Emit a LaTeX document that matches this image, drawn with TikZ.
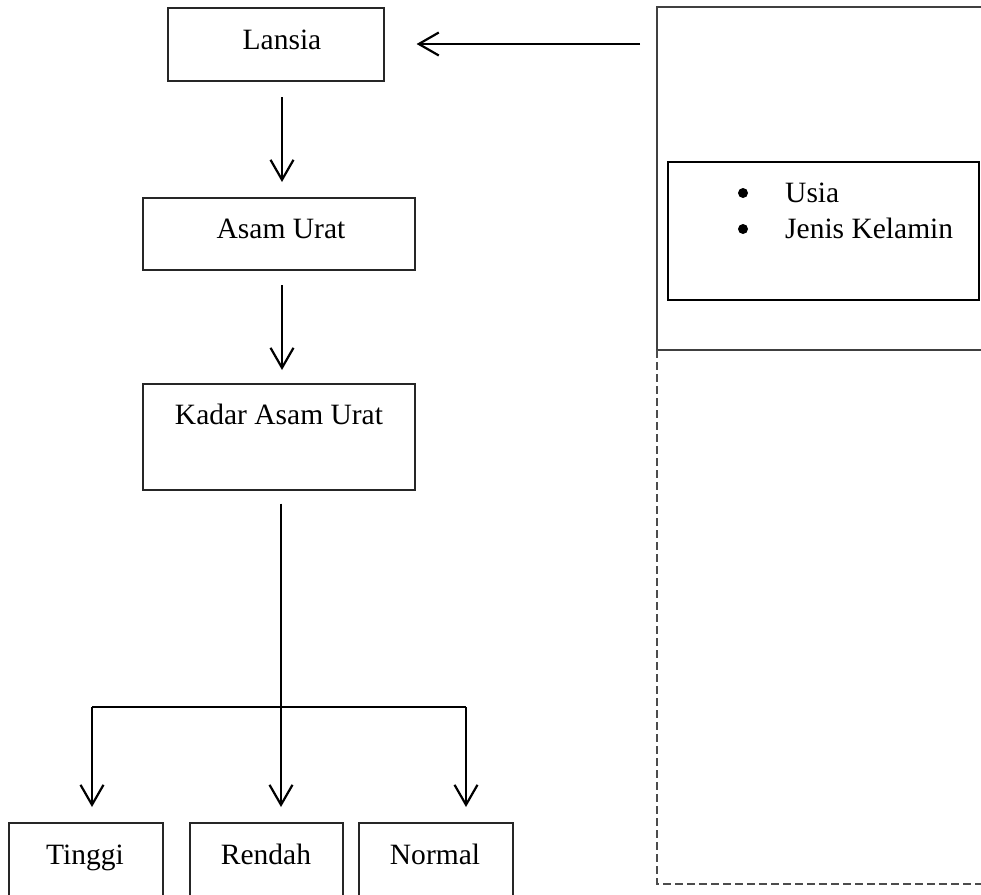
\documentclass[tikz,border=0pt]{standalone}
\usepackage{fontspec}
\setmainfont{Liberation Serif}
\usetikzlibrary{arrows.meta}
\begin{document}
\begin{tikzpicture}[x=1pt,y=-1pt,
  box/.style={draw=black!85,line width=1.6pt,inner sep=0pt,anchor=north west},
  lbl/.style={anchor=base,inner sep=0pt,font=\fontsize{29.5}{35}\selectfont},
  arr/.style={line width=2.2pt,-{Straight Barb[length=20pt,width=23pt,line width=2.2pt]}},
  ln/.style={line width=2.2pt}]
\clip (0,0) rectangle (981,894);
\useasboundingbox (0,0) rectangle (981,894);
% left column boxes
\node[box,minimum width=216pt,minimum height=73pt] (lansia) at (167,7) {};
\node[lbl] (tl) at (282,49) {Lansia};
\node[box,minimum width=272pt,minimum height=72pt] (asam) at (142,197) {};
\node[lbl] (ta) at (281,238) {Asam Urat};
\node[box,minimum width=272pt,minimum height=106pt] (kadar) at (142,383) {};
\node[lbl] (tk) at (279,424) {Kadar Asam Urat};
\node[box,minimum width=154pt,minimum height=90pt] (tinggi) at (8,822) {};
\node[lbl] (tt) at (85,864) {Tinggi};
\node[box,minimum width=153pt,minimum height=90pt] (rendah) at (189,822) {};
\node[lbl] (tr) at (266,864) {Rendah};
\node[box,minimum width=154pt,minimum height=90pt] (normal) at (358,822) {};
\node[lbl] (tn) at (435,864) {Normal};
% arrows
\coordinate (a1) at (282,97);
\coordinate (a2) at (282,285);
\draw[arr] (a1) -- ([yshift=15pt]a1 |- asam.north);
\draw[arr] (a2) -- ([yshift=13pt]a2 |- kadar.north);
\coordinate (fk) at (281,707);
\coordinate (fl) at (92,707);
\coordinate (fr) at (466,707);
\draw[ln] ([yshift=-13pt]fk |- kadar.south) -- (fk);
\draw[ln] (fl) -- (fr);
\draw[arr] (fl) -- ([yshift=15pt]fl |- tinggi.north);
\draw[arr] (fk) -- ([yshift=15pt]fk |- rendah.north);
\draw[arr] (fr) -- ([yshift=15pt]fr |- normal.north);
% right panel
\draw[draw=black!75,line width=1.8pt] (657,350) -- (657,7) -- (983,7);
\draw[draw=black!75,line width=1.8pt] (657,350) -- (983,350);
\draw[draw=black!70,line width=1.5pt,dash pattern=on 8pt off 4pt] (657,350) -- (657,884) -- (983,884);
\node[box,draw=black,minimum width=311pt,minimum height=138pt] (vars) at (667,161) {};
\node[circle,fill=black,inner sep=0pt,minimum size=10pt] (b1) at (743,193) {};
\node[circle,fill=black,inner sep=0pt,minimum size=10pt] (b2) at (743,229) {};
\node[lbl,anchor=base west] (u) at (785,202) {Usia};
\node[lbl,anchor=base west] (j) at (785,238) {Jenis Kelamin};
\coordinate (src) at (640,44);
\draw[arr] (src) -- ([xshift=32pt]lansia.east |- src);
\end{tikzpicture}
\end{document}
